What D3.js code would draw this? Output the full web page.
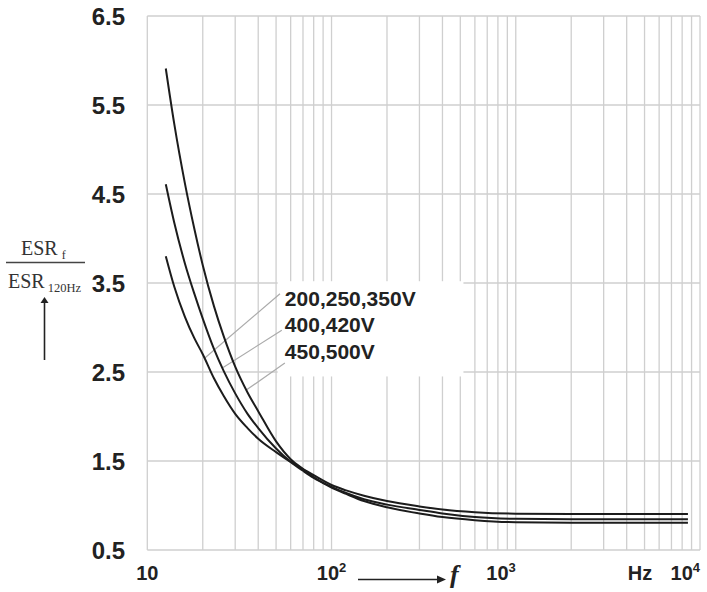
<!DOCTYPE html>
<html><head><meta charset="utf-8">
<script src="https://cdn.jsdelivr.net/npm/d3@7"></script>
<style>body{margin:0;background:#fff}svg{display:block}</style>
</head><body>
<svg id="c" width="707" height="592"></svg>
<script>
// ---- data ----
const yTicks = [0.5, 1.5, 2.5, 3.5, 4.5, 5.5, 6.5];
const yTickLabels = ["0.5", "1.5", "2.5", "3.5", "4.5", "5.5", "6.5"];
const xTicks = [10, 100, 1000, 10000];
const xTickBase = ["10", "10", "10", "10"];
const xTickExp = ["", "2", "3", "4"];
const seriesNames = ["200,250,350V", "400,420V", "450,500V"];
const freqs    = [12.6, 14, 16, 18, 20, 23, 26, 30, 35, 40, 50, 60, 70, 80, 100, 120, 150, 200, 300, 400, 600, 1000, 2000, 5000, 8600];
const v200_350 = [3.80, 3.46, 3.12, 2.88, 2.70, 2.43, 2.23, 2.03, 1.87, 1.75, 1.60, 1.49, 1.41, 1.34, 1.23, 1.17, 1.11, 1.05, 0.99, 0.955, 0.925, 0.908, 0.904, 0.904, 0.904];
const v400_420 = [4.61, 4.18, 3.72, 3.38, 3.10, 2.76, 2.51, 2.26, 2.03, 1.87, 1.64, 1.49, 1.39, 1.31, 1.21, 1.14, 1.07, 1.01, 0.95, 0.91, 0.87, 0.85, 0.845, 0.845, 0.845];
const v450_500 = [5.91, 5.29, 4.62, 4.11, 3.70, 3.24, 2.90, 2.56, 2.27, 2.06, 1.72, 1.52, 1.41, 1.32, 1.20, 1.13, 1.05, 0.98, 0.91, 0.87, 0.835, 0.812, 0.807, 0.807, 0.807];
const seriesValues = [v200_350, v400_420, v450_500];
// leader lines: label anchor (f, v) -> curve point (f, v)
const leaderFromF = [52.5, 53.7, 55.8];
const leaderFromV = [3.38, 2.97, 2.60];
const leaderToF = [20.6, 25.8, 34.6];
const leaderToV = [2.66, 2.55, 2.30];
const labelF = [55.8, 55.8, 55.8];
const labelV = [3.245, 2.95, 2.65];

// ---- chart ----
const svg = d3.select("#c");
const x = d3.scaleLog().domain([10, 10000]).range([147.3, 700]);
const y = d3.scaleLinear().domain([0.5, 6.5]).range([550, 16]);
const gridColor = "#cfcfcf";

// vertical grid lines (log minor)
const vGrid = [];
for (let d = 10; d < 10000; d *= 10) for (let k = 1; k <= 9; k++) vGrid.push(d * k);
vGrid.push(10000);
svg.append("g").selectAll("line").data(vGrid).join("line")
  .attr("x1", d => x(d)).attr("x2", d => x(d))
  .attr("y1", y(6.5)).attr("y2", y(0.5))
  .attr("stroke", gridColor).attr("stroke-width", 1.3);
// horizontal grid lines
svg.append("g").selectAll("line").data(yTicks).join("line")
  .attr("x1", x(10)).attr("x2", x(10000))
  .attr("y1", d => y(d)).attr("y2", d => y(d))
  .attr("stroke", gridColor).attr("stroke-width", 1.5);

// white box behind legend labels
svg.append("rect")
  .attr("x", x(51)).attr("y", y(3.52))
  .attr("width", x(520) - x(51)).attr("height", y(2.45) - y(3.52))
  .attr("fill", "#fff");

// y tick labels
svg.append("g").selectAll("text").data(yTicks).join("text")
  .attr("x", 125).attr("y", d => y(d)).attr("dy", "0.36em")
  .attr("text-anchor", "end")
  .attr("font-family", "Liberation Sans, Arial, sans-serif")
  .attr("font-weight", "bold").attr("font-size", 24).attr("fill", "#222")
  .text((d, i) => yTickLabels[i]);

// x tick labels
const xl = svg.append("g").selectAll("text").data(xTicks).join("text")
  .attr("x", d => x(d)).attr("y", 580)
  .attr("text-anchor", (d, i) => i < 2 ? "middle" : "end")
  .attr("font-family", "Liberation Sans, Arial, sans-serif")
  .attr("font-weight", "bold").attr("font-size", 20).attr("fill", "#222");
xl.append("tspan").text((d, i) => xTickBase[i]);
xl.append("tspan").attr("dy", -8).attr("font-size", 13).text((d, i) => xTickExp[i]);

// Hz unit
svg.append("text").attr("x", 640).attr("y", 580).attr("text-anchor", "middle")
  .attr("font-family", "Liberation Sans, Arial, sans-serif")
  .attr("font-weight", "bold").attr("font-size", 20).attr("fill", "#222").text("Hz");

// f arrow
svg.append("line").attr("x1", 358).attr("x2", 440).attr("y1", 579.5).attr("y2", 579.5)
  .attr("stroke", "#222").attr("stroke-width", 1.6);
svg.append("path").attr("d", "M446,579.5 L437,575.5 L437,583.5 Z").attr("fill", "#222");
svg.append("text").attr("x", 450).attr("y", 583)
  .attr("font-family", "Liberation Serif, Times New Roman, serif")
  .attr("font-style", "italic").attr("font-weight", "bold").attr("font-size", 26)
  .attr("fill", "#222").text("f");

// y axis label (fraction)
const serif = "Liberation Serif, Times New Roman, serif";
const num = svg.append("text").attr("x", 21).attr("y", 255)
  .attr("font-family", serif).attr("font-size", 20).attr("fill", "#333");
num.append("tspan").text("ESR");
num.append("tspan").attr("dx", 4).attr("dy", 4).attr("font-size", 12).text("f");
svg.append("line").attr("x1", 6).attr("x2", 85).attr("y1", 262.5).attr("y2", 262.5)
  .attr("stroke", "#444").attr("stroke-width", 1.3);
const den = svg.append("text").attr("x", 8).attr("y", 288)
  .attr("font-family", serif).attr("font-size", 20).attr("fill", "#333");
den.append("tspan").text("ESR");
den.append("tspan").attr("dx", 3).attr("dy", 3.5).attr("font-size", 12.5).text("120Hz");
svg.append("line").attr("x1", 44.5).attr("x2", 44.5).attr("y1", 302).attr("y2", 360)
  .attr("stroke", "#222").attr("stroke-width", 1.6);
svg.append("path").attr("d", "M44.5,297 L40.5,303 L48.5,303 Z").attr("fill", "#222");

// leader lines
svg.append("g").selectAll("line").data(leaderFromF).join("line")
  .attr("x1", (d, i) => x(leaderFromF[i])).attr("y1", (d, i) => y(leaderFromV[i]))
  .attr("x2", (d, i) => x(leaderToF[i])).attr("y2", (d, i) => y(leaderToV[i]))
  .attr("stroke", "#aaa").attr("stroke-width", 1.2);

// curves
const line = d3.line().x(d => x(d[0])).y(d => y(d[1])).curve(d3.curveMonotoneX);
svg.append("g").selectAll("path").data(seriesValues).join("path")
  .attr("d", vals => line(freqs.map((f, i) => [f, vals[i]])))
  .attr("fill", "none").attr("stroke", "#1c1c1c").attr("stroke-width", 2);

// labels
svg.append("g").selectAll("text").data(seriesNames).join("text")
  .attr("x", (d, i) => x(labelF[i])).attr("y", (d, i) => y(labelV[i]))
  .attr("font-family", "Liberation Sans, Arial, sans-serif")
  .attr("font-weight", "bold").attr("font-size", 21).attr("fill", "#222")
  .text(d => d);
</script>
</body></html>
